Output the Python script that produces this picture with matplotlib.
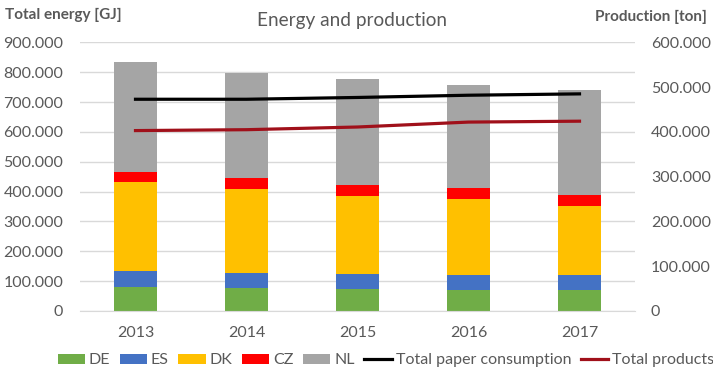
import matplotlib.pyplot as plt
import numpy as np
from matplotlib.ticker import FuncFormatter

plt.rcParams['font.family'] = ['Lato', 'DejaVu Sans']

years = ['2013', '2014', '2015', '2016', '2017']
de = [80000, 76000, 74000, 70000, 70000]
es = [54000, 52000, 51000, 51000, 51000]
dk = [299000, 282000, 261000, 254000, 231000]
cz = [33000, 34000, 36000, 36000, 36000]
nl = [367000, 354000, 356000, 345000, 352000]
paper = [473000, 473000, 477000, 482000, 485000]
products = [403000, 405000, 411000, 422000, 424000]

grey = '#595959'


def dotted(v, pos):
    return f'{int(v):,}'.replace(',', '.')


fig = plt.figure(figsize=(7.13, 3.82), dpi=100)
ax = fig.add_axes([0.1122, 0.1859, 0.7784, 0.7031])
ax2 = ax.twinx()

x = np.arange(len(years))
w = 0.39
bottom = np.zeros(len(years))
for vals, col, lab in [(de, '#70AD47', 'DE'), (es, '#4472C4', 'ES'),
                       (dk, '#FFC000', 'DK'), (cz, '#FF0000', 'CZ'),
                       (nl, '#A5A5A5', 'NL')]:
    ax.bar(x, vals, w, bottom=bottom, color=col, label=lab, zorder=2)
    bottom += np.array(vals)

ax2.plot(x, paper, color='black', lw=2.3, label='Total paper consumption')
ax2.plot(x, products, color='#A0101A', lw=2.3, label='Total products')

ax.set_xlim(-0.5, 4.5)
ax.set_ylim(0, 900000)
ax2.set_ylim(0, 600000)
ax.set_yticks(np.arange(0, 900001, 100000))
ax2.set_yticks(np.arange(0, 600001, 100000))
ax.yaxis.set_major_formatter(FuncFormatter(dotted))
ax2.yaxis.set_major_formatter(FuncFormatter(dotted))
ax.set_xticks(x)
ax.set_xticklabels(years)

ax.grid(axis='y', color='#D9D9D9', lw=1, zorder=0)
ax.set_axisbelow(True)
for a in (ax, ax2):
    for s in a.spines.values():
        s.set_visible(False)
    a.tick_params(length=0, labelsize=11.5, colors=grey)
ax.spines['bottom'].set_visible(True)
ax.spines['bottom'].set_color('#D9D9D9')
ax.tick_params(axis='y', pad=12)
ax2.tick_params(axis='y', pad=11.5)
ax.tick_params(axis='x', pad=11)

fig.text(0.493, 0.947, 'Energy and production', ha='center', va='center',
         fontsize=13.7, color=grey)
fig.text(0.007, 0.961, 'Total energy [GJ]', ha='left', va='center',
         fontsize=11, fontweight='bold', color=grey)
fig.text(0.992, 0.955, 'Production [ton]', ha='right', va='center',
         fontsize=11, fontweight='bold', color=grey)

h1, l1 = ax.get_legend_handles_labels()
h2, l2 = ax2.get_legend_handles_labels()
fig.legend(h1 + h2, l1 + l2, loc='center', bbox_to_anchor=(0.541, 0.057),
           ncol=7, frameon=False, fontsize=11.5, labelcolor=grey,
           handlelength=1.7, handleheight=0.6, handletextpad=0.25,
           columnspacing=0.6, borderpad=0, borderaxespad=0)

fig.savefig('out.png', dpi=100)
